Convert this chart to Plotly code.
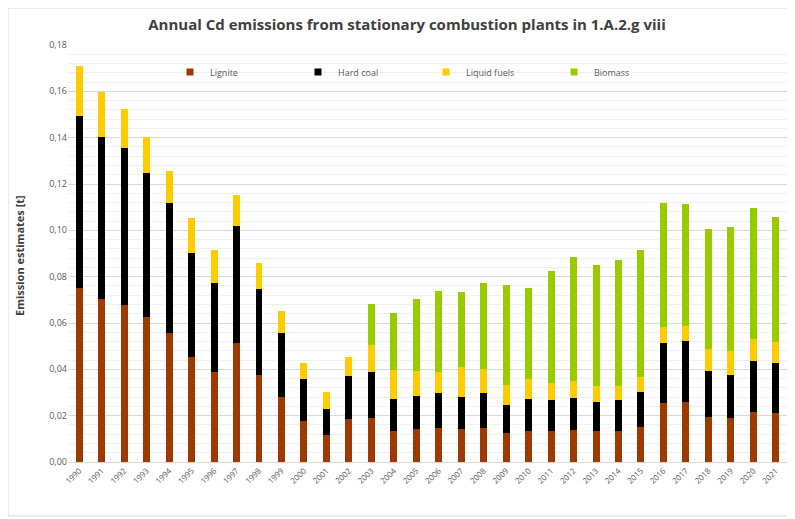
import plotly.graph_objects as go

# ---- data (t) ----
years = [str(y) for y in range(1990, 2022)]

lignite = [0.0750, 0.0703, 0.0678, 0.0624, 0.0555, 0.0452, 0.0387, 0.0512, 0.0376, 0.0280,
           0.0178, 0.0115, 0.0184, 0.0191, 0.0135, 0.0141, 0.0147, 0.0141, 0.0148, 0.0124,
           0.0135, 0.0134, 0.0138, 0.0134, 0.0134, 0.0150, 0.0256, 0.0260, 0.0196, 0.0190,
           0.0217, 0.0213]
hard_coal = [0.0744, 0.0701, 0.0676, 0.0625, 0.0564, 0.0451, 0.0384, 0.0507, 0.0369, 0.0275,
             0.0179, 0.0112, 0.0189, 0.0196, 0.0136, 0.0144, 0.0150, 0.0138, 0.0151, 0.0121,
             0.0136, 0.0134, 0.0137, 0.0126, 0.0134, 0.0153, 0.0259, 0.0262, 0.0197, 0.0184,
             0.0219, 0.0216]
liquid_fuels = [0.0216, 0.0193, 0.0168, 0.0152, 0.0138, 0.0152, 0.0144, 0.0133, 0.0113, 0.0097,
                0.0072, 0.0076, 0.0082, 0.0118, 0.0126, 0.0106, 0.0093, 0.0132, 0.0101, 0.0087,
                0.0087, 0.0072, 0.0075, 0.0068, 0.0061, 0.0065, 0.0066, 0.0066, 0.0095, 0.0105,
                0.0094, 0.0090]
biomass = [0, 0, 0, 0, 0, 0, 0, 0, 0, 0,
           0, 0, 0, 0.0176, 0.0245, 0.0311, 0.0349, 0.0324, 0.0371, 0.0433,
           0.0395, 0.0484, 0.0536, 0.0522, 0.0543, 0.0547, 0.0536, 0.0524, 0.0516, 0.0534,
           0.0565, 0.0540]

series = [
    ("Lignite", lignite, "#9E3A00"),
    ("Hard coal", hard_coal, "#000000"),
    ("Liquid fuels", liquid_fuels, "#FFCC00"),
    ("Biomass", biomass, "#99CC00"),
]

fig = go.Figure()
for name, vals, col in series:
    fig.add_trace(go.Bar(x=years, y=vals, name=name, marker_color=col,
                         marker_line_width=0, showlegend=False))
# small square legend keys
for name, vals, col in series:
    fig.add_trace(go.Scatter(x=[None], y=[None], mode="markers", name=name,
                             marker=dict(symbol="square", size=7, color=col)))

# page body has an 8px margin, so figure px = screen px - 8
OFF = 8
W, H = 787, 511
L, R, T, B = 60, 8, 37, 57
pw, ph = W - L - R, H - T - B


def px(x):
    # screen x -> paper x
    return (x - OFF - L) / pw


def py(y):
    # screen y -> paper y
    return (H - B - (y - OFF)) / ph


fig.update_layout(
    width=W, height=H,
    margin=dict(l=L, r=R, t=T, b=B, autoexpand=False),
    barmode="stack",
    bargap=0.69,
    plot_bgcolor="white",
    paper_bgcolor="white",
    separators=", ",
    font=dict(family="Open Sans, Liberation Sans, sans-serif", color="#595959", size=9),
    title=dict(text="<b>Annual Cd emissions from stationary combustion plants in 1.A.2.g viii</b>",
               x=(407 - OFF) / W, xanchor="center", y=1 - (25 - OFF) / H, yanchor="middle",
               font=dict(size=15, color="#404040")),
    legend=dict(orientation="h", x=px(170), xanchor="left", y=py(72), yanchor="middle",
                bgcolor="rgba(0,0,0,0)", entrywidth=83, itemwidth=30,
                font=dict(size=9, color="#595959"), traceorder="normal"),
    showlegend=True,
)

fig.update_xaxes(type="category", range=[-0.5, len(years) - 0.5], tickangle=-45,
                 tickfont=dict(size=8, color="#595959"), showgrid=False,
                 showline=True, linecolor="#d9d9d9", ticks="", automargin=False)
fig.update_yaxes(range=[0, 0.18], dtick=0.02, tickformat=".2f",
                 tickfont=dict(size=9, color="#595959"),
                 showgrid=True, gridcolor="#d9d9d9", gridwidth=1, zeroline=False,
                 minor=dict(dtick=0.004, showgrid=True, gridcolor="#f0f0f0", gridwidth=1),
                 ticks="", showline=False, automargin=False)

# y axis title
fig.add_annotation(text="<b>Emission estimates [t]</b>", textangle=-90,
                   x=px(19), y=py(255), xref="paper", yref="paper", showarrow=False,
                   xanchor="center", yanchor="middle",
                   font=dict(size=11, color="#404040"))

# white box behind the legend hiding the gridlines
fig.add_shape(type="rect", xref="paper", yref="paper", layer="between",
              x0=px(124), x1=px(687), y0=py(88), y1=py(58),
              fillcolor="white", line_width=0)

# chart border
fig.add_shape(type="rect", xref="paper", yref="paper",
              x0=px(OFF), x1=px(788), y0=py(516), y1=py(OFF),
              line=dict(color="#d9d9d9", width=1), fillcolor="rgba(0,0,0,0)")

fig.write_html("out.html")
